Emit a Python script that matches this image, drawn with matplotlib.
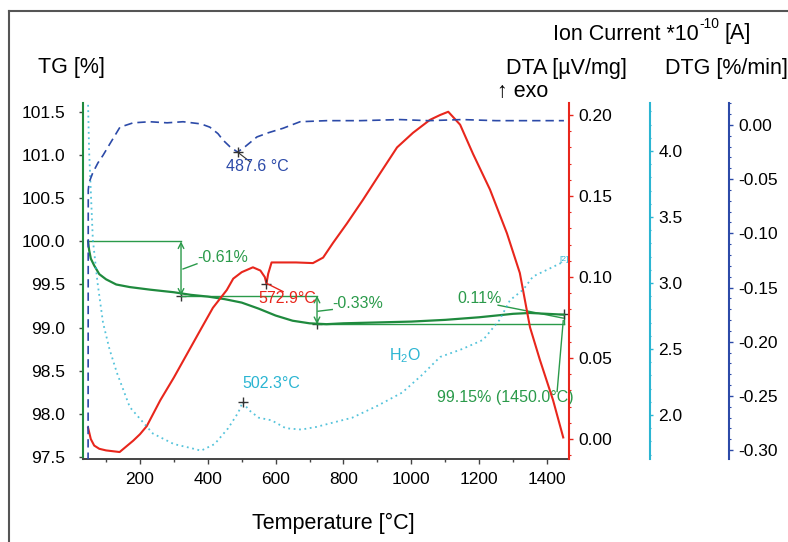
import matplotlib
matplotlib.use("Agg")
import matplotlib.pyplot as plt
from matplotlib.lines import Line2D
from matplotlib.ticker import MultipleLocator

plt.rcParams['font.family'] = ['Liberation Sans', 'DejaVu Sans']
plt.rcParams['axes.unicode_minus'] = False
plt.rcParams['mathtext.fontset'] = 'custom'
plt.rcParams['mathtext.rm'] = 'Liberation Sans'
plt.rcParams['mathtext.it'] = 'Liberation Sans:italic'

# ---------------- data ----------------
temp_tg = [47, 50, 55, 65, 80, 100, 130, 170, 230, 300, 350, 400, 450, 500, 550,
           600, 650, 700, 750, 800, 900, 1000, 1100, 1200, 1250, 1300, 1350, 1400, 1450]
tg = [100.0, 99.9, 99.8, 99.72, 99.62, 99.56, 99.5, 99.47, 99.44, 99.41, 99.38, 99.36,
      99.33, 99.29, 99.22, 99.14, 99.08, 99.05, 99.04, 99.05, 99.06, 99.07, 99.09,
      99.12, 99.14, 99.16, 99.17, 99.16, 99.15]

temp_dta = [47, 55, 65, 80, 100, 140, 180, 200, 220, 260, 300, 340, 380, 415, 456, 475,
            500, 533, 555, 568, 573, 578, 588, 613, 660, 710, 740, 769, 810, 857, 908,
            958, 1005, 1055, 1085, 1109, 1144, 1182, 1232, 1282, 1320, 1350, 1379, 1418, 1448]
dta = [0.007, 0.0, -0.004, -0.006, -0.007, -0.008, -0.001, 0.003, 0.008, 0.024, 0.038,
       0.053, 0.068, 0.081, 0.092, 0.099, 0.103, 0.106, 0.104, 0.100, 0.096, 0.102, 0.109,
       0.109, 0.109, 0.1086, 0.112, 0.121, 0.133, 0.1475, 0.164, 0.180, 0.189, 0.197,
       0.200, 0.202, 0.194, 0.176, 0.154, 0.127, 0.1025, 0.069, 0.049, 0.024, 0.001]

temp_ion = [47, 50, 61, 75, 91, 110, 132, 170, 238, 300, 350, 380, 420, 460, 490, 503,
            520, 550, 588, 630, 676, 720, 780, 826, 900, 973, 1030, 1085, 1150, 1212,
            1260, 1291, 1330, 1359, 1400, 1448]
ion = [4.35, 4.0, 3.33, 3.0, 2.70, 2.50, 2.32, 2.06, 1.86, 1.78, 1.75, 1.73, 1.78, 1.90,
       2.02, 2.10, 2.04, 1.98, 1.96, 1.90, 1.89, 1.91, 1.95, 1.98, 2.07, 2.17, 2.30, 2.44,
       2.50, 2.57, 2.72, 2.87, 2.95, 3.05, 3.10, 3.16]

temp_dtg = [47, 47.5, 50, 61, 76, 91, 112, 141, 180, 229, 280, 327, 380, 406, 430, 445,
            465, 487.6, 510, 545, 580, 622, 672, 750, 850, 967, 1050, 1150, 1250, 1350, 1450]
dtg = [-0.31, -0.06, -0.053, -0.044, -0.035, -0.028, -0.017, -0.002, 0.002, 0.003, 0.002,
       0.003, 0.001, -0.002, -0.008, -0.014, -0.020, -0.025, -0.020, -0.011, -0.007,
       -0.003, 0.003, 0.004, 0.004, 0.005, 0.004, 0.005, 0.004, 0.004, 0.004]

x_ticks = [200, 400, 600, 800, 1000, 1200, 1400]
tg_ticks = [97.5, 98.0, 98.5, 99.0, 99.5, 100.0, 100.5, 101.0, 101.5]
dta_ticks = [0.00, 0.05, 0.10, 0.15, 0.20]
ion_ticks = [2.0, 2.5, 3.0, 3.5, 4.0]
dtg_ticks = [-0.30, -0.25, -0.20, -0.15, -0.10, -0.05, 0.00]

# ---------------- style ----------------
GREEN = '#1f8a3e'
GREEN2 = '#2a9a4a'
RED = '#e8261c'
CYAN = '#2bb5d2'
BLUE = '#2c4aa8'
GRAY = '#444444'
FS = 12.5

W, H = 788, 542
fig = plt.figure(figsize=(W / 100, H / 100), dpi=100)
L, R, T, B = 83, 569, 103, 459
ax = fig.add_axes([L / W, 1 - B / H, (R - L) / W, (B - T) / H])

ax.set_xlim(32, 1465)
ax.set_ylim(97.477, 101.604)

ax_dta = ax.twinx()
ax_ion = ax.twinx()
ax_dtg = ax.twinx()
ax_dta.set_ylim(-0.0123, 0.2074)
ax_ion.set_ylim(1.667, 4.364)
ax_dtg.set_ylim(-0.3083, 0.0203)

ax_ion.spines['right'].set_position(('axes', (650 - L) / (R - L)))
ax_dtg.spines['right'].set_position(('axes', (729 - L) / (R - L)))

for a in (ax, ax_dta, ax_ion, ax_dtg):
    a.patch.set_visible(False)
    a.spines['top'].set_visible(False)
for a in (ax_dta, ax_ion, ax_dtg):
    a.spines['left'].set_visible(False)
    a.spines['bottom'].set_visible(False)

ax.spines['left'].set_color(GREEN)
ax.spines['left'].set_linewidth(1.5)
ax.spines['right'].set_visible(False)
ax.spines['bottom'].set_color(GRAY)
ax.spines['bottom'].set_linewidth(1.4)
ax_dta.spines['right'].set_color(RED)
ax_dta.spines['right'].set_linewidth(1.5)
ax_ion.spines['right'].set_color(CYAN)
ax_ion.spines['right'].set_linewidth(1.5)
ax_dtg.spines['right'].set_color(BLUE)
ax_dtg.spines['right'].set_linewidth(1.5)

ax.set_xticks(x_ticks)
ax.xaxis.set_minor_locator(MultipleLocator(100))
ax.set_yticks(tg_ticks)
ax.set_yticklabels([f'{v:.1f}' for v in tg_ticks])
ax.tick_params(axis='x', which='major', length=3.5, width=1, color=GRAY, pad=6, labelsize=FS)
ax.tick_params(axis='x', which='minor', length=2.5, width=1, color=GRAY)
ax.tick_params(axis='y', which='major', length=3, width=1, color=GRAY, pad=10, labelsize=FS)

ax_dta.set_yticks(dta_ticks)
ax_dta.set_yticklabels([f'{v:.2f}' for v in dta_ticks])
ax_dta.yaxis.set_minor_locator(MultipleLocator(0.01))
ax_dta.tick_params(axis='y', which='major', length=3, width=1, color=RED, pad=4, labelsize=FS)
ax_dta.tick_params(axis='y', which='minor', length=1.5, width=0.8, color=RED)

ax_ion.set_yticks(ion_ticks)
ax_ion.set_yticklabels([f'{v:.1f}' for v in ion_ticks])
ax_ion.yaxis.set_minor_locator(MultipleLocator(0.1))
ax_ion.tick_params(axis='y', which='major', length=2, width=1, color=CYAN, pad=4, labelsize=FS)
ax_ion.tick_params(axis='y', which='minor', length=1, width=0.8, color=CYAN)

ax_dtg.set_yticks(dtg_ticks)
ax_dtg.set_yticklabels([f'{v:.2f}' for v in dtg_ticks])
ax_dtg.yaxis.set_minor_locator(MultipleLocator(0.01))
ax_dtg.tick_params(axis='y', which='major', length=3, width=1, color=BLUE, pad=4, labelsize=FS)
ax_dtg.tick_params(axis='y', which='minor', length=1.5, width=0.8, color=BLUE)

# ---------------- curves ----------------
ax.plot(temp_tg, tg, color=GREEN, lw=1.6, zorder=3)
ax_dta.plot(temp_dta, dta, color=RED, lw=1.5)
ax_ion.plot(temp_ion, ion, color=CYAN, lw=1.3, ls=(0, (1, 2)), alpha=0.8)
ax_dtg.plot(temp_dtg, dtg, color=BLUE, lw=1.2, ls=(0, (5, 3)))

# ---------------- TG annotations ----------------
ak = dict(color=GREEN2, lw=1.0)
ax.plot([47, 321], [100.0, 100.0], **ak)
ax.annotate('', xy=(321, 99.37), xytext=(321, 100.0),
            arrowprops=dict(arrowstyle='<->', color=GREEN2, lw=1.0, shrinkA=0, shrinkB=0))
ax.plot([321], [99.37], marker='+', color='#333333', ms=7, mew=1)
ax.plot([327, 368], [99.68, 99.74], **ak)
ax.text(368, 99.81, '-0.61%', color=GREEN2, fontsize=11.5, va='center', ha='left')

ax.plot([321, 722], [99.37, 99.37], **ak)
ax.annotate('', xy=(722, 99.04), xytext=(722, 99.37),
            arrowprops=dict(arrowstyle='<->', color=GREEN2, lw=1.0, shrinkA=0, shrinkB=0))
ax.plot([722], [99.04], marker='+', color='#333333', ms=7, mew=1)
ax.plot([725, 767], [99.19, 99.21], **ak)
ax.text(767, 99.28, '-0.33%', color=GREEN2, fontsize=11.5, va='center', ha='left')

ax.plot([722, 1450], [99.04, 99.04], **ak)
ax.plot([1450, 1450], [99.04, 99.16], **ak)
ax.plot([1450], [99.16], marker='+', color='#333333', ms=7, mew=1, clip_on=False)
ax.plot([1256, 1448], [99.26, 99.11], **ak)
ax.text(1200, 99.34, '0.11%', color=GREEN2, fontsize=11.5, va='center', ha='center')
ax.plot([1448, 1430], [99.08, 98.26], **ak)
ax.text(1277, 98.19, '99.15% (1450.0°C)', color=GREEN2, fontsize=11.5,
        va='center', ha='center', clip_on=False)

# ---------------- DTA annotation ----------------
ax_dta.plot([572.9], [0.096], marker='+', color='#333333', ms=7, mew=1)
ax_dta.plot([574, 622], [0.096, 0.091], color=RED, lw=1.0)
ax.text(634, 99.34, '572.9°C', color=RED, fontsize=11.5, va='center', ha='center')

# ---------------- DTG annotation ----------------
ax_dtg.plot([487.6], [-0.025], marker='+', color='#333333', ms=7, mew=1)
ax_dtg.plot([487.6, 525], [-0.025, -0.034], color='#333333', lw=0.8)
ax_dtg.text(545, -0.0387, '487.6 °C', color=BLUE, fontsize=11.5, va='center', ha='center')

# ---------------- Ion annotations ----------------
ax_ion.plot([503], [2.10], marker='+', color='#333333', ms=7, mew=1)
ax_ion.text(587, 2.24, '502.3°C', color=CYAN, fontsize=11.5, va='center', ha='center')
ax_ion.text(981, 2.45, r'H$_2$O', color=CYAN, fontsize=11.5, va='center', ha='center')
ax_ion.text(1450, 3.18, '[2]', color=CYAN, fontsize=6, va='center', ha='center', clip_on=False)

# ---------------- titles ----------------
def ftext(x, y, s, **kw):
    return fig.text(x / W, 1 - y / H, s, **kw)

ftext(38, 67, 'TG [%]', fontsize=15.5, va='center', ha='left')
t1 = ftext(553, 34, 'Ion Current *10', fontsize=15.5, va='center', ha='left')
ftext(506, 69, 'DTA [µV/mg]', fontsize=15.5, va='center', ha='left')
ftext(665, 69, 'DTG [%/min]', fontsize=15.5, va='center', ha='left')
ftext(497, 92, '↑ exo', fontsize=15.5, va='center', ha='left')
ftext(333, 523, 'Temperature [°C]', fontsize=15.5, va='center', ha='center')

renderer = fig.canvas.get_renderer()
bb1 = t1.get_window_extent(renderer)
x_sup = bb1.x1 + 1
t2 = fig.text(x_sup / W, (bb1.y0 + bb1.height * 0.62) / H, '-10', fontsize=10,
              va='bottom', ha='left')
bb2 = t2.get_window_extent(renderer)
fig.text((bb2.x1 + 5) / W, 1 - 34 / H, '[A]', fontsize=15.5, va='center', ha='left')

# frame
fig.add_artist(Line2D([9 / W, 1.0], [1 - 11 / H, 1 - 11 / H], transform=fig.transFigure,
                      color='#555555', lw=1.5))
fig.add_artist(Line2D([9 / W, 9 / W], [0, 1 - 11 / H], transform=fig.transFigure,
                      color='#555555', lw=1.5))

fig.savefig('out.png', dpi=100)
